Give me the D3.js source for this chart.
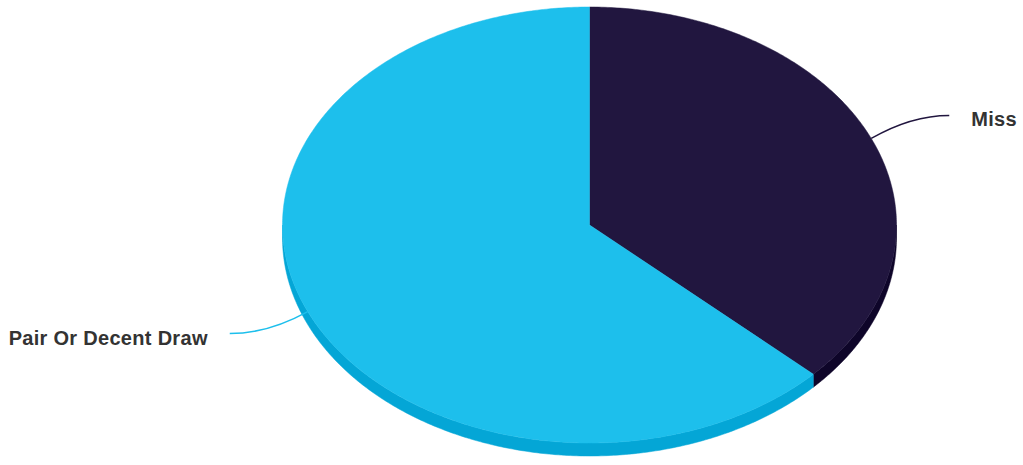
<!DOCTYPE html>
<html>
<head>
<meta charset="utf-8">
<script src="https://cdn.jsdelivr.net/npm/d3@7"></script>
<style>
  html, body { margin: 0; padding: 0; background: #ffffff; }
  svg { display: block; }
</style>
</head>
<body>
<div id="chart"></div>
<script>
const categories = ["Miss", "Pair Or Decent Draw"];
const values = [37, 63];

const topColors = ["#21163f", "#1dbfec"];
const sideColors = ["#0e0529", "#04a6d6"];

const W = 1023, H = 465;
const cx = 589.5, cy = 225, rx = 307, ry = 218, depth = 13;

const svg = d3.select("#chart").append("svg")
  .attr("width", W).attr("height", H)
  .style("font-family", "'Liberation Sans', Arial, sans-serif");

const pie = d3.pie().sort(null).value(d => d.value).startAngle(0).endAngle(2 * Math.PI);
const arcs = pie(categories.map((c, i) => ({ name: c, value: values[i], i })));

const px = a => cx + rx * Math.sin(a);
const py = (a, dz = 0) => cy - ry * Math.cos(a) + dz;

function sample(a0, a1) {
  const n = Math.max(2, Math.ceil(Math.abs(a1 - a0) / 0.01));
  return d3.range(n + 1).map(k => a0 + (a1 - a0) * k / n);
}

// Side walls (front half only: PI/2 .. 3PI/2)
const sideG = svg.append("g");
arcs.forEach(d => {
  const a0 = Math.max(d.startAngle, Math.PI / 2);
  const a1 = Math.min(d.endAngle, 3 * Math.PI / 2);
  if (a1 <= a0) return;
  const topPts = sample(a0, a1).map(a => [px(a), py(a)]);
  const botPts = sample(a1, a0).map(a => [px(a), py(a, depth)]);
  sideG.append("path")
    .attr("d", d3.line()(topPts.concat(botPts)) + "Z")
    .attr("fill", sideColors[d.data.i])
    .attr("stroke", sideColors[d.data.i])
    .attr("stroke-width", 0.5);
});

// Top faces
const topG = svg.append("g");
arcs.forEach(d => {
  const pts = [[cx, cy]].concat(sample(d.startAngle, d.endAngle).map(a => [px(a), py(a)]));
  topG.append("path")
    .attr("d", d3.line()(pts) + "Z")
    .attr("fill", topColors[d.data.i])
    .attr("stroke", topColors[d.data.i])
    .attr("stroke-width", 0.5);
});

// Labels with connectors
const labelG = svg.append("g");
arcs.forEach(d => {
  const mid = (d.startAngle + d.endAngle) / 2;
  const ex = px(mid), ey = py(mid);
  const right = Math.sin(mid) >= 0;
  const dir = right ? 1 : -1;
  const lx = ex + dir * 78;
  const ly = ey + (ey < cy ? -23 : 22);
  labelG.append("path")
    .attr("d", `M${lx},${ly} C${lx - dir * 28},${ly} ${ex + dir * 22},${ey - (ey - ly) * 0.55} ${ex},${ey}`)
    .attr("fill", "none")
    .attr("stroke", topColors[d.data.i])
    .attr("stroke-width", 1.5);
  labelG.append("text")
    .attr("x", lx + dir * 22)
    .attr("y", ly + 4)
    .attr("dominant-baseline", "central")
    .attr("text-anchor", right ? "start" : "end")
    .attr("font-size", 20)
    .attr("font-weight", "bold")
    .attr("letter-spacing", 0.3)
    .attr("fill", "#333333")
    .text(d.data.name);
});
</script>
</body>
</html>
